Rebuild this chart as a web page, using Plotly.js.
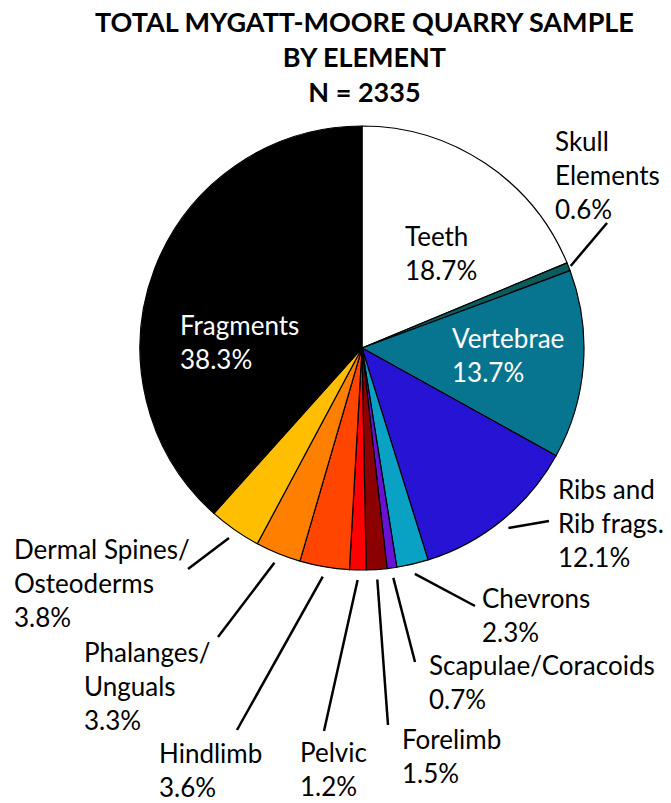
<!DOCTYPE html>
<html>
<head>
<meta charset="utf-8">
<script src="https://cdn.plot.ly/plotly-3.0.1.min.js"></script>
<style>
  body { margin: 0; background: #fff; }
  #chart { width: 671px; height: 803px; }
</style>
</head>
<body>
<div id="chart"></div>
<script>
// element categories, clockwise from 12 o'clock
const elements = [
  "Teeth", "Skull Elements", "Vertebrae", "Ribs and Rib frags.", "Chevrons",
  "Scapulae/Coracoids", "Forelimb", "Pelvic", "Hindlimb", "Phalanges/Unguals",
  "Dermal Spines/Osteoderms", "Fragments",
];
const percents = [18.7, 0.6, 13.7, 12.1, 2.3, 0.7, 1.5, 1.2, 3.6, 3.3, 3.8, 38.3];
// how the names break on the chart
const labelNames = [
  "Teeth", "Skull<br>Elements", "Vertebrae", "Ribs and<br>Rib frags.", "Chevrons",
  "Scapulae/Coracoids", "Forelimb", "Pelvic", "Hindlimb", "Phalanges/<br>Unguals",
  "Dermal Spines/<br>Osteoderms", "Fragments",
];
const sliceColors = [
  "#ffffff", "#0b5c5c", "#087590", "#2613d4", "#0aa2c4", "#6a12d4",
  "#8b0000", "#ff0000", "#ff4500", "#ff8000", "#ffbf00", "#000000",
];

const W = 671, H = 803;
const CX = 362, CY = 348, R = 222;

// label placement in pixels: [left x, middle y, line end x, line end y] (null = no line)
const labelPos = [
  [403, 253, null, null],
  [553, 175, 607, 223],
  [450, 355, null, null],
  [556, 523, 549, 521],
  [480, 615, 475, 606],
  [427, 682, 415, 662],
  [400, 756, 388, 725],
  [298, 769, 324, 731],
  [157, 770, 237, 730],
  [82, 686, 218, 637],
  [12, 583, 188, 569],
  [178, 342, null, null],
];
const whiteText = [false, false, true, false, false, false, false, false, false, false, false, true];

const px = (x) => x / W;
const py = (y) => 1 - y / H;

const total = percents.reduce((a, b) => a + b, 0);
const annotations = [];
const shapes = [];
let cum = 0;
percents.forEach((p, i) => {
  const mid = ((cum + p / 2) / total) * 2 * Math.PI;
  cum += p;
  const [lx, ly, ex, ey] = labelPos[i];
  annotations.push({
    xref: "paper", yref: "paper",
    x: px(lx), y: py(ly),
    xanchor: "left", yanchor: "middle", align: "left",
    showarrow: false,
    text: labelNames[i] + "<br>" + p.toFixed(1) + "%",
    font: { family: "Lato, sans-serif", size: 26, color: whiteText[i] ? "#ffffff" : "#000000" },
  });
  if (ex !== null) {
    const rr = i === 1 ? R * 1.01 : R * 1.045;
    shapes.push({
      type: "line", xref: "paper", yref: "paper",
      x0: px(CX + rr * Math.sin(mid)), y0: py(CY - rr * Math.cos(mid)),
      x1: px(ex), y1: py(ey),
      line: { color: "#000000", width: 2.5 },
    });
  }
});

// title as an annotation so the three lines sit where they should
annotations.push({
  xref: "paper", yref: "paper",
  x: px(364), y: py(3),
  xanchor: "center", yanchor: "top", align: "center",
  showarrow: false,
  text: "<b>TOTAL MYGATT-MOORE QUARRY SAMPLE<br>BY ELEMENT<br>N = 2335</b>",
  font: { family: "Lato, sans-serif", size: 27, color: "#000000" },
});

const trace = {
  type: "pie",
  labels: elements,
  values: percents,
  sort: false,
  direction: "clockwise",
  rotation: 0,
  textinfo: "none",
  hoverinfo: "none",
  marker: { colors: sliceColors, line: { color: "#000000", width: 1.2 } },
  domain: { x: [px(CX - R), px(CX + R)], y: [py(CY + R), py(CY - R)] },
};

const layout = {
  width: W,
  height: H,
  showlegend: false,
  margin: { l: 0, r: 0, t: 0, b: 0 },
  paper_bgcolor: "#ffffff",
  annotations: annotations,
  shapes: shapes,
};

Plotly.newPlot("chart", [trace], layout, { staticPlot: true });
</script>
</body>
</html>
